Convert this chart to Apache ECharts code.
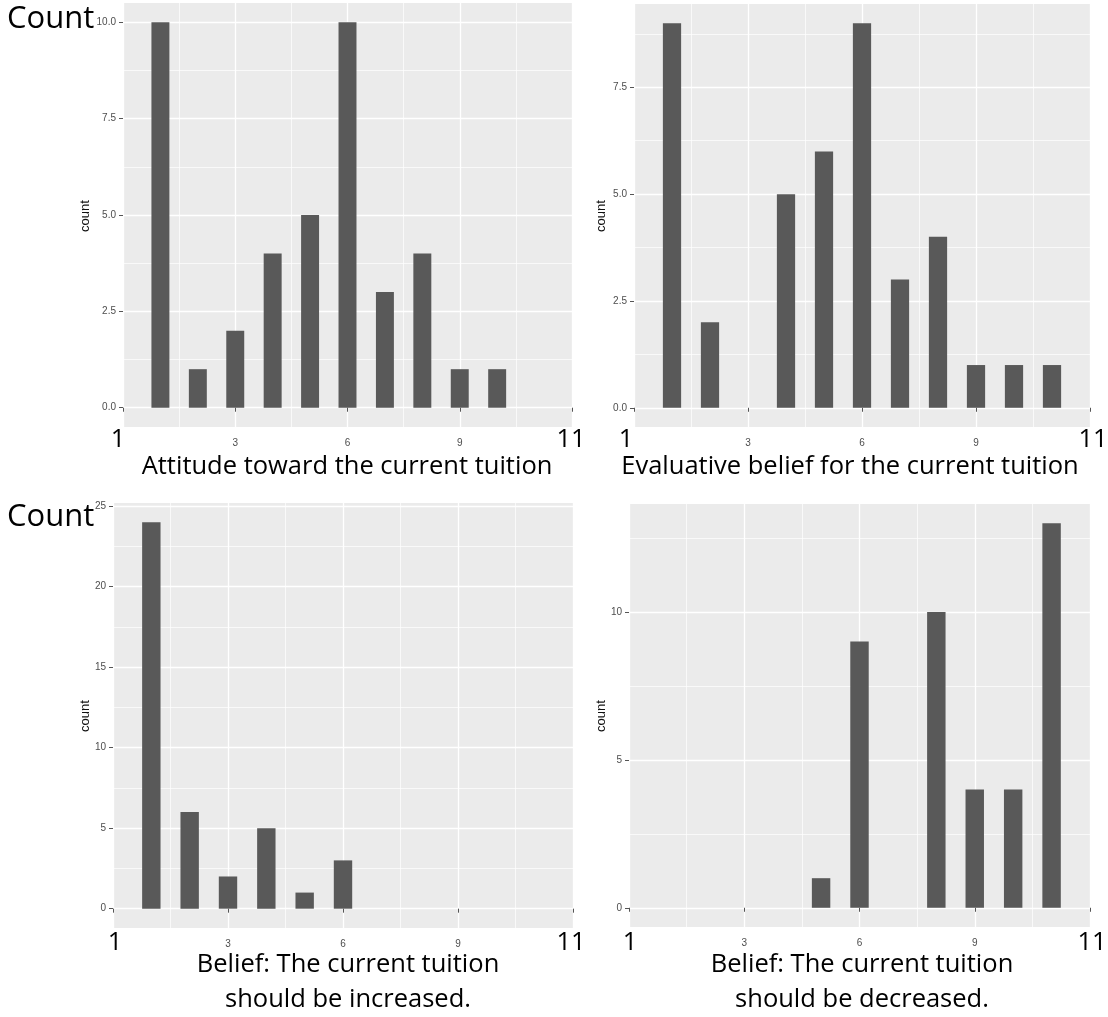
<!DOCTYPE html>
<html>
<head>
<meta charset="utf-8">
<script src="https://cdn.jsdelivr.net/npm/echarts@6/dist/echarts.min.js"></script>
<style>
  html, body { margin: 0; padding: 0; background: #fff; }
  #chart { width: 1108px; height: 1017px; }
</style>
</head>
<body>
<div id="chart"></div>
<script>
// Response scale points (1..11) and how many respondents chose each
const scalePoints      = [1, 2, 3, 4, 5, 6, 7, 8, 9, 10, 11];
const attitudeCounts   = [10, 1, 2, 4, 5, 10, 3, 4, 1, 1, 0];
const evaluativeCounts = [9, 2, 0, 5, 6, 9, 3, 4, 1, 1, 1];
const increaseCounts   = [24, 6, 2, 5, 1, 3, 0, 0, 0, 0, 0];
const decreaseCounts   = [0, 0, 0, 0, 1, 9, 0, 10, 4, 4, 13];

// Axis tick labels
const xTickLabels = [3, 6, 9];
const xEndLabels  = ['1', '11'];
const yStepTL = 2.5, yStepTR = 2.5, yStepBL = 5, yStepBR = 5;

const panelTitles = [
  ['Attitude toward the current tuition'],
  ['Evaluative belief for the current tuition'],
  ['Belief: The current tuition', 'should be increased.'],
  ['Belief: The current tuition', 'should be decreased.']
];

// Panel geometry (pixels) and axis settings
const panels = [
  { counts: attitudeCounts,   box: [123, 3, 572, 427],   step: yStepTL, labelMax: 10,  lineMax: 10, digits: 1 },
  { counts: evaluativeCounts, box: [634, 4, 1090, 427],  step: yStepTR, labelMax: 7.5, lineMax: 10, digits: 1 },
  { counts: increaseCounts,   box: [113, 503, 573, 928], step: yStepBL, labelMax: 25,  lineMax: 25, digits: 0 },
  { counts: decreaseCounts,   box: [629, 504, 1090, 927], step: yStepBR, labelMax: 10, lineMax: 15, digits: 0 }
];

const X_MAX = 12;
const PANEL_BG = '#ebebeb';
const BAR_COLOR = '#595959';
const TICK_COLOR = '#555';
const LABEL_COLOR = '#4d4d4d';
const OVERLAY_FONT = '"Open Sans", "Noto Sans", sans-serif';
const AXIS_FONT = '"Liberation Sans", Arial, sans-serif';

const grids = [], xAxes = [], yAxes = [], series = [];

function addGrid(g) {
  grids.push(Object.assign({ outerBoundsMode: 'none', containLabel: false }, g));
  return grids.length - 1;
}

panels.forEach(p => {
  const [x0, y0, x1, y1] = p.box;
  const w = x1 - x0;
  const maxCount = Math.max(...p.counts);
  const lo = -0.05 * maxCount, hi = 1.05 * maxCount;   // 5% padding above and below
  const py = v => y1 - (v - lo) / (hi - lo) * (y1 - y0);

  // 1) panel: grey background, vertical grid lines, x ticks and labels
  const gPanel = addGrid({ left: x0, top: y0, width: w, height: y1 - y0, show: true,
                           backgroundColor: PANEL_BG, borderWidth: 0 });
  xAxes.push({
    gridIndex: gPanel, type: 'value', min: 0, max: X_MAX, interval: 3,
    axisLine: { show: false },
    axisTick: { show: true, length: 4, lineStyle: { color: TICK_COLOR, width: 1 } },
    axisLabel: { color: LABEL_COLOR, fontSize: 10, margin: 11, fontFamily: AXIS_FONT,
                 formatter: v => xTickLabels.includes(v) ? String(v) : '' },
    splitLine: { show: true, lineStyle: { color: '#fff', width: 1.3 } },
    minorTick: { show: false, splitNumber: 2 },
    minorSplitLine: { show: true, lineStyle: { color: '#fff', width: 0.7 } }
  });
  yAxes.push({ gridIndex: gPanel, type: 'value', min: lo, max: hi, show: false });

  // 2) horizontal grid lines and the bars
  const gLines = addGrid({ left: x0, width: w, top: py(p.lineMax), height: py(0) - py(p.lineMax) });
  xAxes.push({ gridIndex: gLines, type: 'value', min: 0, max: X_MAX, show: false });
  yAxes.push({
    gridIndex: gLines, type: 'value', min: 0, max: p.lineMax, interval: p.step,
    axisLine: { show: false }, axisTick: { show: false }, axisLabel: { show: false },
    splitLine: { show: true, lineStyle: { color: '#fff', width: 1.3 } },
    minorTick: { show: false, splitNumber: 2 },
    minorSplitLine: { show: true, lineStyle: { color: '#fff', width: 0.7 } }
  });
  series.push({
    type: 'bar', xAxisIndex: gLines, yAxisIndex: gLines,
    barWidth: 0.48 * w / X_MAX,
    itemStyle: { color: BAR_COLOR },
    silent: true,
    data: scalePoints.map((x, i) => [x, p.counts[i]]).filter(d => d[1] > 0)
  });

  // 3) y tick marks and labels
  const gLabels = addGrid({ left: x0, width: w, top: py(p.labelMax), height: py(0) - py(p.labelMax) });
  xAxes.push({ gridIndex: gLabels, type: 'value', min: 0, max: X_MAX, show: false });
  yAxes.push({
    gridIndex: gLabels, type: 'value', min: 0, max: p.labelMax, interval: p.step,
    axisLine: { show: false },
    axisTick: { show: true, length: 4, lineStyle: { color: TICK_COLOR, width: 1 } },
    axisLabel: { color: LABEL_COLOR, fontSize: 10, margin: 7, fontFamily: AXIS_FONT,
                 formatter: v => v.toFixed(p.digits) },
    splitLine: { show: false }
  });
});

// Text drawn over the panels
const graphics = [];
function addText(text, x, y, opts) {
  graphics.push(Object.assign({
    type: 'text', x: x, y: y, z: 100, silent: true,
    style: Object.assign({
      text: text, fill: '#000', fontFamily: OVERLAY_FONT, fontSize: 25.5,
      textAlign: 'center', textVerticalAlign: 'middle'
    }, opts && opts.style)
  }, opts && opts.el));
}

addText('Count', 7, 19, { style: { textAlign: 'left', fontSize: 31 } });
addText('Count', 7, 517, { style: { textAlign: 'left', fontSize: 31 } });

const endPos = [
  [118, 571, 440], [626, 1093, 440],
  [115, 571, 943], [630, 1092, 943]
];
endPos.forEach(([a, b, y]) => {
  addText(xEndLabels[0], a, y);
  addText(xEndLabels[1], b, y);
});

const titlePos = [[347, 467], [850, 467], [348, 965], [862, 965]];
panelTitles.forEach((lines, i) => {
  lines.forEach((line, j) => addText(line, titlePos[i][0], titlePos[i][1] + j * 35));
});

// ggplot-style "count" axis titles
[[85, 216], [601, 216], [85, 716], [601, 716]].forEach(([x, y]) => {
  addText('count', x, y, {
    el: { rotation: Math.PI / 2 },
    style: { fontFamily: AXIS_FONT, fontSize: 13, fill: '#111' }
  });
});

const chart = echarts.init(document.getElementById('chart'));
chart.setOption({
  animation: false,
  backgroundColor: '#fff',
  grid: grids,
  xAxis: xAxes,
  yAxis: yAxes,
  series: series,
  graphic: { elements: graphics }
});
</script>
</body>
</html>
